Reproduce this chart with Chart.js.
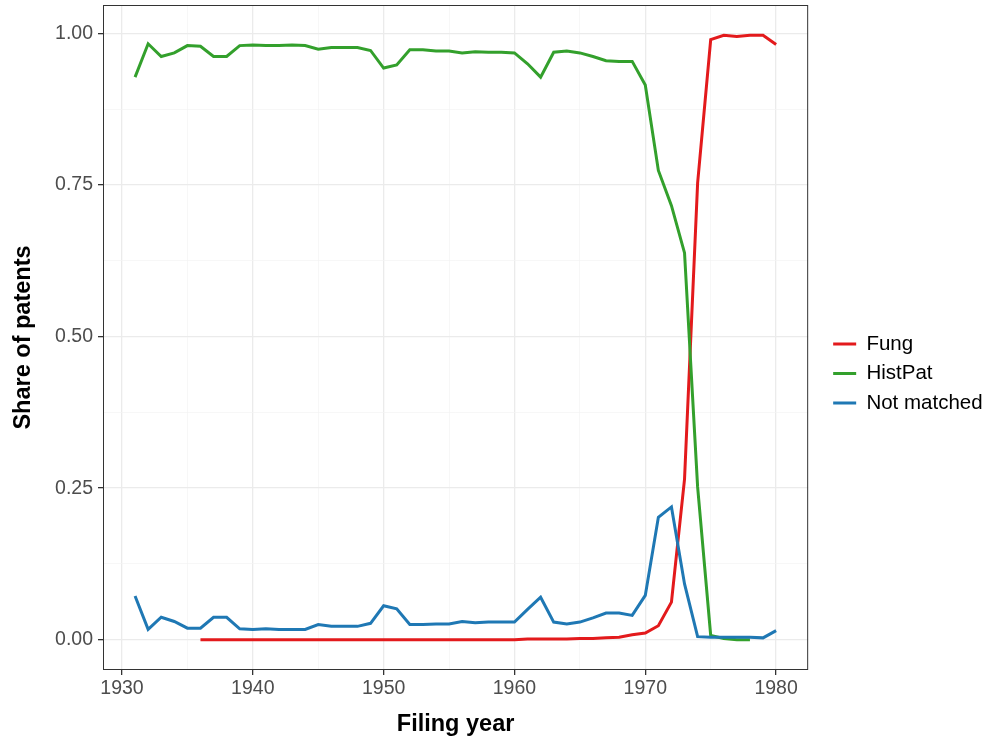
<!DOCTYPE html>
<html lang="en">
<head>
    <meta charset="UTF-8">
    <title>Share of patents by filing year</title>
    <style>
        body { margin: 0; background: #ffffff; }
        #wrap { width: 989px; height: 742px; }
    </style>
    <script src="https://cdn.jsdelivr.net/npm/chart.js"></script>
</head>
<body>
    <div id="wrap"><canvas id="myChart" width="989" height="742"></canvas></div>

    <script>
        // filing years 1931..1980
        const years = [1931, 1932, 1933, 1934, 1935, 1936, 1937, 1938, 1939, 1940,
                       1941, 1942, 1943, 1944, 1945, 1946, 1947, 1948, 1949, 1950,
                       1951, 1952, 1953, 1954, 1955, 1956, 1957, 1958, 1959, 1960,
                       1961, 1962, 1963, 1964, 1965, 1966, 1967, 1968, 1969, 1970,
                       1971, 1972, 1973, 1974, 1975, 1976, 1977, 1978, 1979, 1980];

        const fung = [null, null, null, null, null, 0.000, 0.000, 0.000, 0.000, 0.000,
                      0.000, 0.000, 0.000, 0.000, 0.000, 0.000, 0.000, 0.000, 0.000, 0.000,
                      0.000, 0.000, 0.000, 0.000, 0.000, 0.000, 0.000, 0.000, 0.000, 0.000,
                      0.001, 0.001, 0.001, 0.001, 0.002, 0.002, 0.003, 0.004, 0.008, 0.011,
                      0.023, 0.062, 0.265, 0.753, 0.990, 0.997, 0.995, 0.997, 0.997, 0.982];

        const histPat = [0.928, 0.983, 0.962, 0.968, 0.980, 0.979, 0.962, 0.962, 0.980, 0.981,
                         0.980, 0.980, 0.981, 0.980, 0.974, 0.977, 0.977, 0.977, 0.972, 0.943,
                         0.948, 0.973, 0.973, 0.971, 0.971, 0.968, 0.970, 0.969, 0.969, 0.968,
                         0.950, 0.928, 0.969, 0.971, 0.968, 0.962, 0.955, 0.954, 0.954, 0.915,
                         0.774, 0.716, 0.638, 0.252, 0.007, 0.002, 0.000, 0.000, null, null];

        const notMatched = [0.072, 0.017, 0.037, 0.030, 0.019, 0.019, 0.037, 0.037, 0.018, 0.017,
                            0.018, 0.017, 0.017, 0.017, 0.025, 0.022, 0.022, 0.022, 0.027, 0.056,
                            0.051, 0.025, 0.025, 0.026, 0.026, 0.030, 0.028, 0.029, 0.029, 0.029,
                            0.050, 0.070, 0.029, 0.026, 0.029, 0.036, 0.044, 0.044, 0.040, 0.073,
                            0.202, 0.219, 0.092, 0.005, 0.004, 0.004, 0.004, 0.004, 0.003, 0.015];

        const xTicks = [1930, 1935, 1940, 1945, 1950, 1955, 1960, 1965, 1970, 1975, 1980];
        const yTicks = [0, 0.125, 0.25, 0.375, 0.5, 0.625, 0.75, 0.875, 1.0];

        const toPoints = vals => years.map((y, i) => ({ x: y, y: vals[i] }));
        const isMajorX = v => v % 10 === 0;
        const isMajorY = v => Math.abs(v * 4 - Math.round(v * 4)) < 1e-9;
        const fontFamily = 'Liberation Sans, Arial, sans-serif';

        // panel border like ggplot theme_bw
        const panelBorder = {
            id: 'panelBorder',
            afterDraw(chart) {
                const { ctx, chartArea: a } = chart;
                ctx.save();
                ctx.strokeStyle = '#333333';
                ctx.lineWidth = 1;
                ctx.strokeRect(a.left + 0.5, a.top + 0.5, a.right - a.left - 1, a.bottom - a.top - 1);
                ctx.restore();
            }
        };

        const ctx = document.getElementById('myChart').getContext('2d');
        const myChart = new Chart(ctx, {
            type: 'line',
            data: {
                datasets: [
                    { label: 'Fung', data: toPoints(fung), borderColor: '#E31A1C', backgroundColor: '#E31A1C', borderWidth: 3, order: 3 },
                    { label: 'HistPat', data: toPoints(histPat), borderColor: '#33A02C', backgroundColor: '#33A02C', borderWidth: 3, order: 2 },
                    { label: 'Not matched', data: toPoints(notMatched), borderColor: '#1F78B4', backgroundColor: '#1F78B4', borderWidth: 3, order: 1 }
                ]
            },
            options: {
                responsive: false,
                animation: false,
                layout: { padding: { top: 5, right: 0, left: 0, bottom: 0 } },
                elements: {
                    point: { radius: 0 },
                    line: { tension: 0, fill: false }
                },
                plugins: {
                    tooltip: { enabled: false },
                    legend: {
                        position: 'right',
                        labels: {
                            usePointStyle: true,
                            pointStyle: 'line',
                            pointStyleWidth: 23,
                            padding: 9,
                            color: '#000000',
                            font: { family: fontFamily, size: 20.5 },
                            sort: (a, b) => a.datasetIndex - b.datasetIndex
                        }
                    }
                },
                scales: {
                    x: {
                        type: 'linear',
                        min: 1928.55,
                        max: 1982.45,
                        afterBuildTicks: s => { s.ticks = xTicks.map(v => ({ value: v })); },
                        afterFit: s => { s.height = 72; s.paddingLeft = 0; s.paddingRight = 0; },
                        border: { display: false },
                        grid: {
                            color: c => isMajorX(c.tick.value) ? '#ebebeb' : '#f3f3f3',
                            lineWidth: c => isMajorX(c.tick.value) ? 1.3 : 0.7,
                            tickColor: c => isMajorX(c.tick.value) ? '#333333' : 'rgba(0,0,0,0)',
                            tickLength: 5
                        },
                        ticks: {
                            autoSkip: false,
                            maxRotation: 0,
                            padding: 2,
                            color: '#4d4d4d',
                            font: { family: fontFamily, size: 19.5 },
                            callback: v => isMajorX(v) ? String(v) : ''
                        },
                        title: {
                            display: true,
                            text: 'Filing year',
                            color: '#000000',
                            padding: { top: 0, bottom: 3 },
                            font: { family: fontFamily, size: 23.5, weight: 'bold' }
                        }
                    },
                    y: {
                        type: 'linear',
                        min: -0.05,
                        max: 1.047,
                        afterBuildTicks: s => { s.ticks = yTicks.map(v => ({ value: v })); },
                        afterFit: s => { s.width = 103; s.paddingTop = 0; s.paddingBottom = 0; },
                        border: { display: false },
                        grid: {
                            color: c => isMajorY(c.tick.value) ? '#ebebeb' : '#f3f3f3',
                            lineWidth: c => isMajorY(c.tick.value) ? 1.3 : 0.7,
                            tickColor: c => isMajorY(c.tick.value) ? '#333333' : 'rgba(0,0,0,0)',
                            tickLength: 5
                        },
                        ticks: {
                            autoSkip: false,
                            padding: 5,
                            color: '#4d4d4d',
                            font: { family: fontFamily, size: 19.5 },
                            callback: v => isMajorY(v) ? v.toFixed(2) : ''
                        },
                        title: {
                            display: true,
                            text: 'Share of patents',
                            color: '#000000',
                            padding: { top: 9, bottom: 0 },
                            font: { family: fontFamily, size: 23.5, weight: 'bold' }
                        }
                    },
                    // empty spacer between panel and legend
                    gap: {
                        type: 'linear',
                        position: 'right',
                        display: true,
                        afterFit: s => { s.width = 16; s.paddingTop = 0; s.paddingBottom = 0; },
                        grid: { display: false },
                        border: { display: false },
                        ticks: { display: false }
                    }
                }
            },
            plugins: [panelBorder]
        });
    </script>
</body>
</html>
